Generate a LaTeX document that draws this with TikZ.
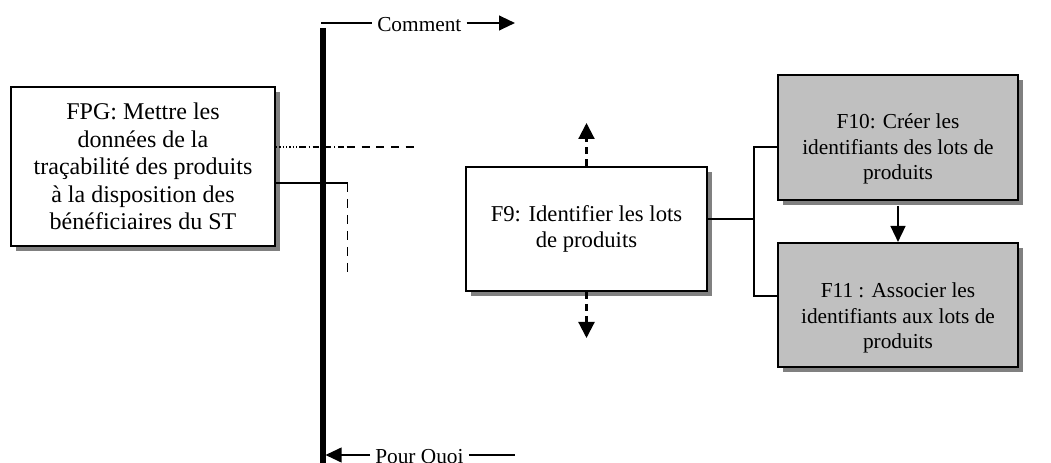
\documentclass[tikz,border=0pt]{standalone}
\usepackage{fontspec}
\setmainfont{Liberation Serif}
\usetikzlibrary{arrows.meta,shadows}
\definecolor{shadowgray}{HTML}{808080}
\definecolor{boxgray}{HTML}{C0C0C0}
\begin{document}
\begin{tikzpicture}[x=0.75pt,y=-0.75pt,
  fbox/.style={draw=black, line width=1.5pt, fill=white, rectangle, inner sep=0pt, align=center,
    drop shadow={shadow xshift=3.75pt, shadow yshift=-3.75pt, fill=shadowgray, opacity=1}},
  gbox/.style={fbox, fill=boxgray},
  lbl/.style={align=center, inner sep=0pt},
  axlbl/.style={inner xsep=3.75pt, inner ysep=0pt, font=\fontsize{16}{19}\selectfont},
  conn/.style={line width=1pt},
  tri/.style={-{Triangle[length=12pt,width=11pt]}},
  dsh/.style={dash pattern=on 6pt off 5pt}]
\useasboundingbox (0,0) rectangle (1051,463);
\clip (0,0) rectangle (1051,463);

% vertical axis
\coordinate (vtop) at (323,28);
\coordinate (vbot) at (323,480);
\draw[line width=4.5pt] (vtop) -- (vbot);

% Comment
\coordinate (c0) at (321,23);
\coordinate (c1) at (515,23);
\node[axlbl, anchor=base west] (comment) at (372,32) {Comment};
\draw[conn] (c0) -- (comment.west |- c0);
\draw[line width=1.6pt, tri] (comment.east |- c1) -- (c1);

% Pour Quoi
\coordinate (p0) at (325.5,455);
\coordinate (p1) at (515,455);
\node[axlbl, anchor=base west] (pq) at (370,464) {Pour Quoi};
\draw[line width=1.4pt, tri] (pq.west |- p0) -- (p0);
\draw[conn] (pq.east |- p1) -- (p1);

% FPG box
\node[fbox, minimum width=198pt, minimum height=119.25pt,
      font=\fontsize{18}{20.7}\selectfont] (fpg) at (143,166.5)
  {FPG: Mettre les\\données de la\\traçabilité des produits\\à la disposition des\\bénéficiaires du ST};

% dash-dot line
\coordinate (d1) at (300,147);
\coordinate (d2) at (347,147);
\coordinate (d3) at (420,147);
\draw[conn, dash pattern=on 1pt off 1.5pt] (fpg.east |- d1) -- (d1);
\draw[conn, dash pattern=on 4.5pt off 2pt on 1pt off 2pt] (d1) -- (d2);
\draw[conn, dsh] (d2) -- (d3);

% solid then dashed
\coordinate (e1) at (347.5,183);
\coordinate (e2) at (347.5,273);
\draw[conn] (fpg.east |- e1) -- (e1);
\draw[conn, dash pattern=on 7pt off 5pt] (e1) -- (e2);

% F9
\node[fbox, minimum width=180.75pt, minimum height=93pt,
      font=\fontsize{17}{20}\selectfont] (f9) at (586.5,229)
  {F9: Identifier les lots\\de produits};
\coordinate (up) at (586.5,123);
\coordinate (down) at (586.5,338);
\draw[line width=1.6pt, dash pattern=on 5pt off 4pt, -{Triangle[length=12pt,width=12pt]}] (f9.north) -- (up);
\draw[line width=1.6pt, dash pattern=on 5pt off 4pt, -{Triangle[length=12pt,width=12pt]}] (f9.south) -- (down);

% F10, F11
\node[gbox, minimum width=180pt, minimum height=93.75pt] (f10) at (898,137.5) {};
\node[lbl, font=\fontsize{16}{19}\selectfont] (f10t) at (898,149)
  {F10: Créer les\\identifiants des lots de\\produits};
\node[gbox, minimum width=180pt, minimum height=93pt] (f11) at (898,305) {};
\node[lbl, font=\fontsize{16}{19}\selectfont] (f11t) at (898,318)
  {F11 : Associer les\\identifiants aux lots de\\produits};

% connectors
\coordinate (j0) at (754,219);
\coordinate (j1) at (754,147);
\coordinate (j2) at (754,296);
\draw[conn] (f9.east |- j0) -- (j0);
\draw[conn] (f10.west |- j1) -- (j1) -- (j2) -- (f11.west |- j2);
\draw[line width=1.8pt, tri] ([yshift=-3.75pt]f10.south) -- (f11.north);
\end{tikzpicture}
\end{document}
